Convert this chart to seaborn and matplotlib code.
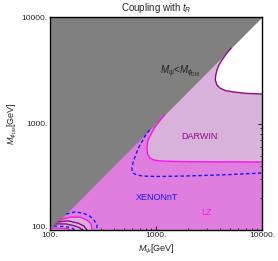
import matplotlib
matplotlib.use("Agg")
import matplotlib.pyplot as plt
import matplotlib.transforms as mtransforms
import seaborn as sns

# Diagonal M_psi = M_phi (GeV)
diag = [100, 10000]

# White region boundary (dark purple curve), from the diagonal to the right edge
white_x = [5100, 4600, 4200, 3900, 3760, 3650, 3630, 3750, 4020, 4500, 5320, 7000, 10000]
white_y = [5100, 4500, 3950, 3500, 3160, 2800, 2560, 2300, 2150, 2040, 1980, 1920, 1890]

# LZ / DARWIN boundary (magenta curve)
lz_x = [1210, 1080, 977, 900, 841, 822, 835, 877, 950, 1090, 1500, 2600, 10000]
lz_y = [1210, 1050, 927, 800, 700, 600, 510, 474, 455, 445, 440, 437, 435]

# XENONnT (blue dashed)
xe_x = [870, 800, 753, 700, 660, 620, 593, 595, 607, 660, 753, 1000, 1800, 4500, 10000]
xe_y = [870, 780, 700, 620, 540, 460, 391, 360, 343, 328, 321, 318, 321, 330, 343]

# small features near the lower-left corner
xe2_x = [142, 172, 205, 238, 260, 277, 277]
xe2_y = [141, 148, 144, 135, 124, 111, 100]
lz2_x = [124, 154, 192, 223, 244, 249]
lz2_y = [124, 132, 132, 124, 114, 100]
dw1_x = [119, 148, 184, 209, 223]
dw1_y = [119, 122, 116, 109, 100]
dw2_x = [114, 142, 172, 192, 200]
dw2_y = [114, 114, 109, 104.5, 100]
xe3_x = [109, 138, 161, 172]
xe3_y = [109, 108, 104, 100]
lz3_x = [104, 130, 150, 156]
lz3_y = [104, 104, 102, 100]

ticks = [100, 1000, 10000]
tick_labels = ["100.", "1000.", "10000."]

GRAY = "#808080"
PINK = "#E07EE0"
LILAC = "#D9B2DB"
PURPLE = "#8B0A8B"
MAGENTA = "#FF10F0"
BLUE = "#1515FF"

sns.set_style("ticks")
plt.rcParams["font.family"] = ["Liberation Sans", "DejaVu Sans"]
plt.rcParams["mathtext.fontset"] = "custom"
plt.rcParams["mathtext.rm"] = "Liberation Sans"
plt.rcParams["mathtext.it"] = "Liberation Sans:italic"

fig = plt.figure(figsize=(2.78, 2.61), dpi=100)
ax = fig.add_axes([50 / 278, 1 - 230 / 261, 212 / 278, 213 / 261])
ax.set_xscale("log")
ax.set_yscale("log")

# filled regions
ax.fill([100, 10000, 10000], [100, 100, 10000], color=PINK, lw=0, zorder=1)
ax.fill(lz_x + [10000], lz_y + [10000], color=LILAC, lw=0, zorder=2)
ax.fill(white_x + [10000], white_y + [10000], color="white", lw=0, zorder=3)
ax.fill(lz2_x + [100], lz2_y + [100], color=LILAC, lw=0, zorder=2)
ax.fill_between(diag, diag, [10000, 10000], color=GRAY, lw=0, zorder=4)

# contour lines
for xs, ys, c, ls in [
    (white_x, white_y, PURPLE, "-"),
    (lz_x, lz_y, MAGENTA, "-"),
    (xe_x, xe_y, BLUE, "--"),
    (xe2_x, xe2_y, BLUE, "--"),
    (lz2_x, lz2_y, MAGENTA, "-"),
    (dw1_x, dw1_y, PURPLE, "-"),
    (dw2_x, dw2_y, PURPLE, "-"),
    (xe3_x, xe3_y, BLUE, "--"),
    (lz3_x, lz3_y, MAGENTA, "-"),
]:
    sns.lineplot(x=xs, y=ys, sort=False, estimator=None, color=c,
                 lw=1.0, ax=ax, zorder=5)
    ln = ax.lines[-1]
    ln.set_solid_joinstyle("round")
    if ls == "--":
        ln.set_linestyle("--")
        ln.set_dashes((2.5, 1.8))

ax.set_xlim(100, 10000)
ax.set_ylim(100, 10000)
ax.set_xticks(ticks)
ax.set_xticklabels(tick_labels)
ax.set_yticks(ticks)
ax.set_yticklabels(tick_labels)
ax.tick_params(which="both", direction="in", top=True, right=True,
               labelsize=6, color="black", pad=1.5)
ax.tick_params(which="major", length=3, width=0.6)
ax.tick_params(which="minor", length=1.6, width=0.5)
for s in ax.spines.values():
    s.set_linewidth(1.0)
    s.set_color("black")
    s.set_zorder(10)
ax.set_axisbelow(False)

# nudge the lowest y tick label up a bit, like the reference
lab = ax.get_yticklabels()[0]
lab.set_transform(lab.get_transform()
                  + mtransforms.ScaledTranslation(0, 2.5 / 72, fig.dpi_scale_trans))

ax.text(1680, 3050, r"$M_\psi$<$M_{\phi_{\rm DM}}$", fontsize=7, ha="center",
        va="center", color="#202020", zorder=6)
ax.text(2550, 747, "DARWIN", fontsize=6.5, ha="center", va="center",
        color=PURPLE, zorder=6)
ax.text(1020, 200, "XENONnT", fontsize=6.5, ha="center", va="center",
        color=BLUE, zorder=6)
ax.text(3020, 147, "LZ", fontsize=6.5, ha="center", va="center",
        color=MAGENTA, zorder=6)

ax.set_title(r"Coupling with $t_R$", fontsize=7, pad=4)
ax.set_xlabel(r"$M_\psi$[GeV]", fontsize=6.5, labelpad=3)
ax.set_ylabel(r"$M_{\phi_{\rm DM}}$[GeV]", fontsize=6.5, labelpad=2)

fig.savefig("out.png", dpi=100)
